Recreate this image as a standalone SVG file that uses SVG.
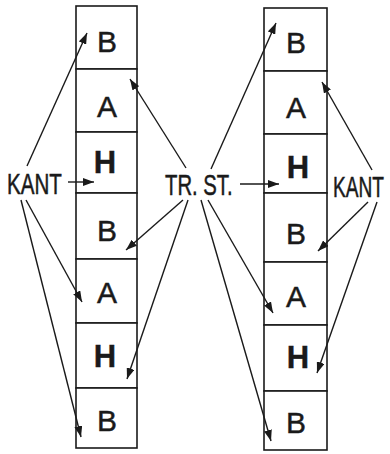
<svg xmlns="http://www.w3.org/2000/svg" width="390" height="454" viewBox="0 0 390 454">
<style>
.cell{fill:#fff;stroke:#1a1a1a;stroke-width:1.6}
.let{font-family:"Liberation Sans",Arial,sans-serif;font-size:30px;fill:#1a1a1a;stroke:#1a1a1a;stroke-width:0.45;text-anchor:middle}
.bold{font-weight:bold;font-size:31px;stroke-width:0.4}
.lab{font-family:"Liberation Sans",Arial,sans-serif;font-size:29px;fill:#1a1a1a;stroke:#1a1a1a;stroke-width:0.5}
.arr{stroke:#1a1a1a;stroke-width:1.4;fill:none;marker-end:url(#ah)}
</style>
<defs>
<marker id="ah" markerUnits="userSpaceOnUse" markerWidth="11" markerHeight="8" refX="11" refY="4" orient="auto">
<path d="M0,0 L11,4 L0,8 z" fill="#1a1a1a"/>
</marker>
</defs>
<rect width="390" height="454" fill="#fff"/>
<g id="left-column">
<g id="L1"><rect class="cell" x="76" y="6" width="61" height="63"/><text class="let" x="107" y="52">B</text></g>
<g id="L2"><rect class="cell" x="76" y="69" width="61" height="63"/><text class="let" x="107" y="117">A</text></g>
<g id="L3"><rect class="cell" x="76" y="132" width="61" height="61"/><text class="let bold" x="105" y="173">H</text></g>
<g id="L4"><rect class="cell" x="76" y="193" width="61" height="66"/><text class="let" x="107" y="241">B</text></g>
<g id="L5"><rect class="cell" x="76" y="259" width="61" height="64"/><text class="let" x="107" y="303">A</text></g>
<g id="L6"><rect class="cell" x="76" y="323" width="61" height="65"/><text class="let bold" x="105" y="367">H</text></g>
<g id="L7"><rect class="cell" x="76" y="388" width="61" height="60"/><text class="let" x="107" y="431">B</text></g>
</g>
<g id="right-column">
<g id="R1"><rect class="cell" x="264" y="8" width="63" height="63"/><text class="let" x="296" y="53">B</text></g>
<g id="R2"><rect class="cell" x="264" y="71" width="63" height="63"/><text class="let" x="296" y="118">A</text></g>
<g id="R3"><rect class="cell" x="264" y="134" width="63" height="59"/><text class="let bold" x="298" y="178">H</text></g>
<g id="R4"><rect class="cell" x="264" y="193" width="63" height="69"/><text class="let" x="296" y="244">B</text></g>
<g id="R5"><rect class="cell" x="264" y="262" width="63" height="63"/><text class="let" x="296" y="307">A</text></g>
<g id="R6"><rect class="cell" x="264" y="325" width="63" height="66"/><text class="let bold" x="298" y="368">H</text></g>
<g id="R7"><rect class="cell" x="264" y="391" width="63" height="59"/><text class="let" x="296" y="433">B</text></g>
</g>
<g id="label-kant-left"><text class="lab" transform="translate(7,194) scale(0.71,1)">KANT</text></g>
<g id="label-trst"><text class="lab" transform="translate(165,195) scale(0.70,1)">TR. ST.</text></g>
<g id="label-kant-right"><text class="lab" transform="translate(333,197) scale(0.66,1)">KANT</text></g>
<g id="connectors">
<line class="arr" x1="27" y1="166" x2="87" y2="33"/>
<line class="arr" x1="68" y1="182" x2="94" y2="182"/>
<line class="arr" x1="26" y1="200" x2="82" y2="302"/>
<line class="arr" x1="21" y1="200" x2="81" y2="437"/>
<line class="arr" x1="186" y1="168" x2="130" y2="79"/>
<line class="arr" x1="183" y1="200" x2="126" y2="250"/>
<line class="arr" x1="188" y1="200" x2="127" y2="379"/>
<line class="arr" x1="211" y1="169" x2="276" y2="23"/>
<line class="arr" x1="240" y1="184" x2="279" y2="184"/>
<line class="arr" x1="208" y1="200" x2="273" y2="313"/>
<line class="arr" x1="201" y1="200" x2="271" y2="441"/>
<line class="arr" x1="372" y1="170" x2="322" y2="82"/>
<line class="arr" x1="368" y1="202" x2="318" y2="251"/>
<line class="arr" x1="377" y1="202" x2="317" y2="373"/>
</g>
</svg>
